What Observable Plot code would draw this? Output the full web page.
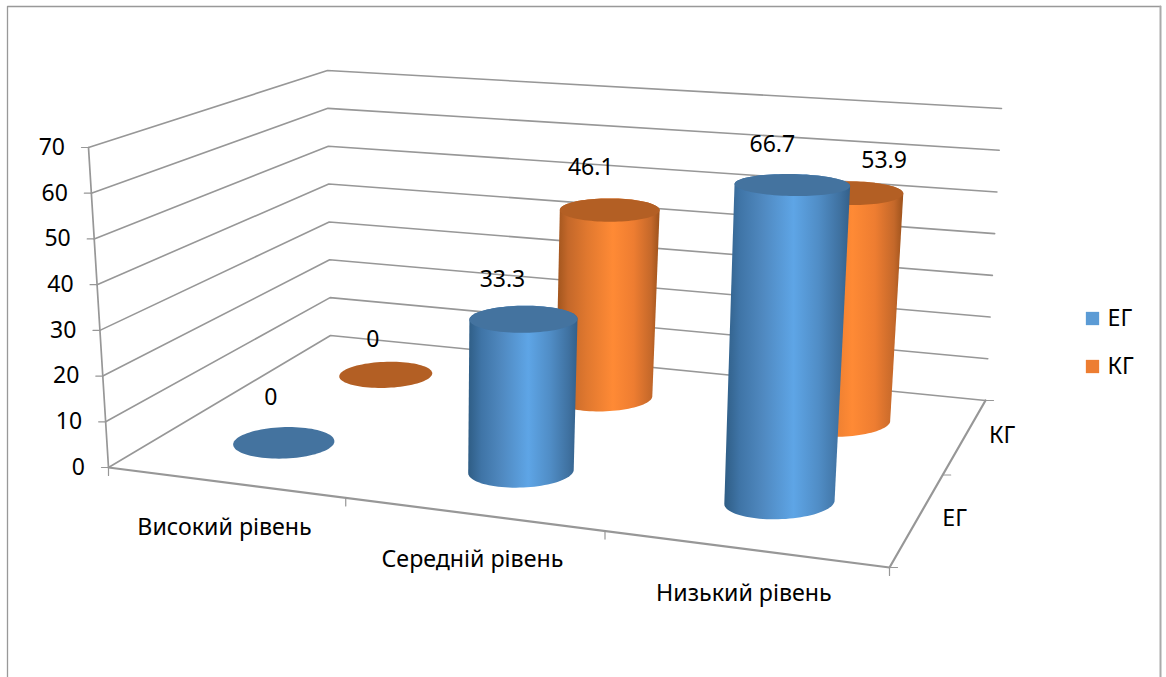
<!DOCTYPE html>
<html><head><meta charset="utf-8">
<style>html,body{margin:0;padding:0;background:#fff}svg{display:block}</style>
<script src="https://cdn.jsdelivr.net/npm/d3@7"></script>
<script src="https://cdn.jsdelivr.net/npm/@observablehq/plot@0.6"></script>
</head><body><div id="chart"></div>
<script>
// ---- data ----
const categories = ["Високий рівень", "Середній рівень", "Низький рівень"];
const seriesNames = ["ЕГ", "КГ"];
const valuesEG = [0, 33.3, 66.7];
const valuesKG = [0, 46.1, 53.9];
const yTicks = [0, 10, 20, 30, 40, 50, 60, 70];
const yMax = 70;

// ---- look ----
const W = 1166, H = 677;
const font = "'Noto Sans', sans-serif";
const fsNum = 23, fsCat = 23.2;
const axisColor = "#979797";
const topColor = {"ЕГ": "#44739f", "КГ": "#b35f24"};
const legendColor = {"ЕГ": "#5b9bd5", "КГ": "#ed7d31"};
const gradId = {"ЕГ": "gradEG", "КГ": "gradKG"};

// ---- 3D box seen in perspective: corners of floor and ceiling ----
const floorQuad = [[108,467],[889,567],[985,400],[330,335]];   // FL, FR, BR, BL
const ceilQuad  = [[88,147],[905,207],[1001,108],[327,70]];

function homography([p0,p1,p2,p3]) {
  const dx1=p1[0]-p2[0], dx2=p3[0]-p2[0], sx=p0[0]-p1[0]+p2[0]-p3[0];
  const dy1=p1[1]-p2[1], dy2=p3[1]-p2[1], sy=p0[1]-p1[1]+p2[1]-p3[1];
  const den=dx1*dy2-dx2*dy1;
  const g=(sx*dy2-dx2*sy)/den, h=(dx1*sy-sx*dy1)/den;
  const a=p1[0]-p0[0]+g*p1[0], b=p3[0]-p0[0]+h*p3[0], c=p0[0];
  const d=p1[1]-p0[1]+g*p1[1], e=p3[1]-p0[1]+h*p3[1], f=p0[1];
  return (u,v)=>{const w=g*u+h*v+1;return [(a*u+b*v+c)/w,(d*u+e*v+f)/w];};
}
const F = homography(floorQuad), C0 = homography(ceilQuad);
// ceiling with a slight bow, zero along the walls' edges
const C = (u,v)=>{const p=C0(u,v), b=4*u*(1-u); return [p[0]+b*7*(1-0.4*v), p[1]+b*8*v];};
// u: 0..1 along categories, v: 0..1 along series, val: axis value
const P = (u,v,val)=>{const a=F(u,v),b=C(u,v),t=val/yMax;return [a[0]+(b[0]-a[0])*t,a[1]+(b[1]-a[1])*t];};
const uOf = i => (i+0.5)/categories.length;
const vOf = s => (s+0.5)/seriesNames.length;
const rU = 0.0705;

function ellipseFrame(u,v,val,s){
  const c=P(u,v,val), l=F(u-rU,v), r=F(u+rU,v), a=F(0,v), b=F(1,v);
  const local=Math.hypot(r[0]-l[0],r[1]-l[1])/2, row=Math.hypot(b[0]-a[0],b[1]-a[1])*rU;
  const t=val/yMax;
  const rx=Math.sqrt(local*row)*(1+0.05*t);
  const ratio = s===0 ? 0.31-0.126*t : 0.28-0.07*t;
  const tilt=(-2+3*val/66.7)*Math.PI/180;
  return {c,rx,ry:rx*ratio,tilt};
}
function ePoint(e,a){
  const x=e.rx*Math.cos(a), y=e.ry*Math.sin(a);
  return {x:e.c[0]+x*Math.cos(e.tilt)-y*Math.sin(e.tilt), y:e.c[1]+x*Math.sin(e.tilt)+y*Math.cos(e.tilt)};
}
const angles = d3.range(0,361,4).map(d=>d*Math.PI/180);
const ellipsePts = e => angles.map(a=>ePoint(e,a));
function bodyPts(top,bot){
  const lower = d3.range(0,181,4).map(d=>ePoint(bot,d*Math.PI/180));       // right -> left through the front
  const upper = d3.range(180,361,4).map(d=>ePoint(top,d*Math.PI/180));     // left -> right across the back
  return lower.concat(upper);
}

// ---- table of cylinders: back row first ----
const bars = [];
[1,0].forEach(s=>{
  const vals = s===0 ? valuesEG : valuesKG;
  vals.forEach((val,i)=>bars.push({name:seriesNames[s],s,i,val}));
});
// label placement relative to top centre
const labelOffset = {"ЕГ":[[-13,-45],[-21,-40],[-20,-40]], "КГ":[[-13,-35],[-19,-42],[33,-33]]};

const marks = [];
// gradients
marks.push(()=>{
  const defs=d3.create("svg:defs");
  const stops={
    gradEG:[[0,"#2f5d85"],[.12,"#3f74a6"],[.3,"#4f88bf"],[.55,"#5ea5e6"],[.75,"#508dc6"],[.92,"#3f71a0"],[1,"#33608a"]],
    gradKG:[[0,"#9c521c"],[.12,"#c4682a"],[.3,"#e0782f"],[.55,"#ff8a35"],[.75,"#ee7d31"],[.92,"#c4682a"],[1,"#9c521c"]]
  };
  for(const id in stops){
    const g=defs.append("linearGradient").attr("id",id).attr("x1",0).attr("x2",1).attr("y1",0).attr("y2",0);
    stops[id].forEach(([o,c])=>g.append("stop").attr("offset",o).attr("stop-color",c));
  }
  return defs.node();
});

const line=(pts,opt)=>Plot.line(pts,{x:d=>d[0],y:d=>d[1],curve:"linear",...opt});
// frame
marks.push(line([[7,H],[7,6],[1160,6]],{stroke:"#999",strokeWidth:1.3}));
marks.push(line([[1160,6],[1160,H]],{stroke:"#aaa",strokeWidth:2}));
// gridlines on the walls
yTicks.forEach(t=>{
  marks.push(line([P(0,0,t),P(0,1,t),P(1,1,t)],{stroke:axisColor,strokeWidth:1.6}));
  const p=P(0,0,t);
  marks.push(line([[p[0]-7,p[1]],p],{stroke:axisColor,strokeWidth:1.2}));
});
// axes
marks.push(line([P(0,0,0),P(0,0,yMax)],{stroke:axisColor,strokeWidth:1.7}));
marks.push(line([P(0,0,0),P(1,0,0),P(1,1,0)],{stroke:axisColor,strokeWidth:2.2}));
// ticks
d3.range(0,categories.length+1).forEach(k=>{
  const p=P(k/categories.length,0,0);
  marks.push(line([p,[p[0],p[1]+8]],{stroke:axisColor,strokeWidth:1.2}));
});
d3.range(0,seriesNames.length+1).forEach(k=>{
  const p=P(1,k/seriesNames.length,0);
  marks.push(line([p,[p[0]+8,p[1]]],{stroke:axisColor,strokeWidth:1.2}));
});
// cylinders
bars.forEach(b=>{
  const u=uOf(b.i), v=vOf(b.s);
  const bot=ellipseFrame(u,v,0,b.s), top=ellipseFrame(u,v,b.val,b.s);
  if(b.val>0){
    marks.push(Plot.line(bodyPts(top,bot),{x:"x",y:"y",curve:"linear",fill:`url(#${gradId[b.name]})`,stroke:"none"}));
  }
  marks.push(Plot.line(ellipsePts(top),{x:"x",y:"y",curve:"linear",fill:topColor[b.name],stroke:"none"}));
});
// text
const txt=(d,opt)=>Plot.text(d,{x:"x",y:"y",text:"t",fontFamily:font,fontSize:fsNum,fill:"#000",lineAnchor:"middle",...opt});
marks.push(txt(bars.map(b=>{
  const c=P(uOf(b.i),vOf(b.s),b.val), o=labelOffset[b.name][b.i];
  return {x:c[0]+o[0],y:c[1]+o[1],t:String(b.val)};
}),{}));
marks.push(txt(yTicks.map(t=>{const p=P(0,0,t);return {x:p[0]-23.5,y:p[1],t:String(t)};}),{textAnchor:"end"}));
marks.push(txt(categories.map((c,i)=>{const p=P(uOf(i),0,0);return {x:p[0],y:p[1]+45,t:c};}),{fontSize:fsCat}));
marks.push(txt(seriesNames.map((n,s)=>{const p=P(1,vOf(s),0);return {x:p[0]+37,y:p[1],t:n};}),{fontSize:fsCat}));
// legend
const legendY=d3.scalePoint().domain(seriesNames).range([318,366]);
marks.push(Plot.dot(seriesNames,{x:()=>1092,y:n=>legendY(n),symbol:"square",r:7.5,fill:n=>legendColor[n],stroke:"none"}));
marks.push(txt(seriesNames.map(n=>({x:1107,y:legendY(n),t:n})),{textAnchor:"start",fontSize:fsCat}));

const chart=Plot.plot({
  width:W,height:H,margin:0,
  x:{domain:[0,W],range:[0,W],axis:null},
  y:{domain:[0,H],range:[0,H],axis:null},
  color:{type:"identity"},
  style:{background:"#fff",overflow:"visible"},
  marks
});
document.getElementById("chart").append(chart);
</script></body></html>
